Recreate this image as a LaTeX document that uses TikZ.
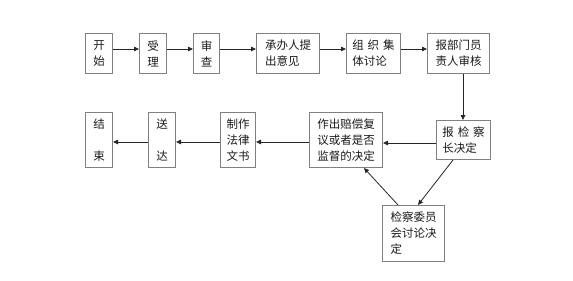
\documentclass[tikz,border=0pt]{standalone}
\usepackage{fontspec}
\setmainfont{Noto Sans CJK SC}
\usetikzlibrary{arrows.meta}
\begin{document}
\begin{tikzpicture}[x=1pt,y=-1pt,
  box/.style={draw=black!50,line width=1pt,inner sep=0pt,align=left,anchor=north west,
    font=\fontsize{11.5}{16}\selectfont,text=black!90},
  arr/.style={draw=black!85,line width=0.8pt,-{Triangle[length=5pt,width=4.5pt]}}]
\useasboundingbox (0,0) rectangle (573,281);
\node[box,minimum width=27pt,minimum height=40pt] (b1) at (85,33) {开\\始};
\node[box,minimum width=27pt,minimum height=40pt] (b2) at (139,33) {受\\理};
\node[box,minimum width=26pt,minimum height=40pt] (b3) at (193,33) {审\\查};
\node[box,minimum width=63pt,minimum height=40pt] (b4) at (256,33) {承办人提\\出意见};
\node[box,minimum width=54pt,minimum height=40pt] (b5) at (346,33) {组\,\,织\,\,集\\体讨论};
\node[box,minimum width=62pt,minimum height=40pt] (b6) at (427,33) {报部门员\\责人审核};
\node[box,minimum width=54pt,minimum height=39pt] (b7) at (436,120) {报\,\,检\,\,察\\长决定};
\node[box,minimum width=73pt,minimum height=55pt] (b8) at (309,112) {作出赔偿复\\议或者是否\\监督的决定};
\node[box,minimum width=62pt,minimum height=56pt] (b9) at (382,205) {检察委员\\会讨论决\\定};
\node[box,minimum width=35pt,minimum height=55pt] (b10) at (220,112) {制作\\法律\\文书};
\node[box,minimum width=27pt,minimum height=55pt] (b11) at (148,112) {送\\\phantom{达}\\达};
\node[box,minimum width=27pt,minimum height=55pt] (b12) at (85,112) {结\\\phantom{束}\\束};
\draw[arr] (b1.east |- 0,49) -- (b2.west |- 0,49);
\draw[arr] (b2.east |- 0,49) -- (b3.west |- 0,49);
\draw[arr] (b3.east |- 0,49) -- (b4.west |- 0,49);
\draw[arr] (b4.east |- 0,49) -- (b5.west |- 0,49);
\draw[arr] (b5.east |- 0,49) -- (b6.west |- 0,49);
\draw[arr] (b6.south -| 463,0) -- (b7.north -| 463,0);
\draw[arr] (b7.west |- 0,143) -- (b8.east |- 0,143);
\draw[arr] (b7.south -| 453,0) -- (b9.north -| 418,0);
\draw[arr] (b9.north -| 398,0) -- (b8.south -| 364,0);
\draw[arr] (b8.west |- 0,142) -- (b10.east |- 0,142);
\draw[arr] (b10.west |- 0,142) -- (b11.east |- 0,142);
\draw[arr] (b11.west |- 0,142) -- (b12.east |- 0,142);
\end{tikzpicture}
\end{document}
